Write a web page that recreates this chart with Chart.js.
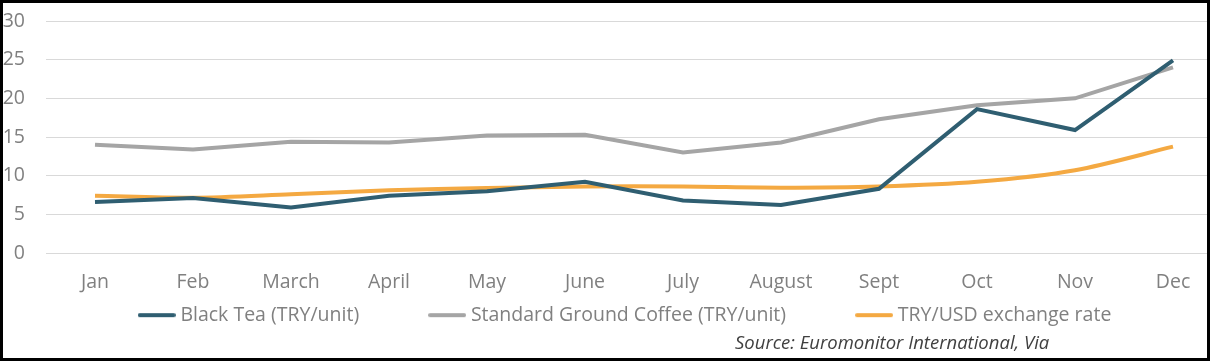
<!DOCTYPE html>
<html>
<head>
<meta charset="utf-8">
<script src="https://cdn.jsdelivr.net/npm/chart.js@4.4.1/dist/chart.umd.min.js"></script>
<style>
  html, body { margin: 0; padding: 0; background: #fff; overflow: hidden; }
  body { width: 1210px; height: 361px; position: relative; }
  #wrap { position: absolute; left: 0; top: 0; width: 1222px; height: 361px; }
  #frame { position: absolute; left: 0; top: 0; width: 1210px; height: 361px;
    box-sizing: border-box; border: 3px solid #000; pointer-events: none; }
  #source { position: absolute; left: 735px; top: 332px; font-family: "Open Sans", sans-serif;
    font-style: italic; font-size: 18.5px; line-height: 20px; color: #404040; white-space: nowrap; }
</style>
</head>
<body>
<div id="wrap"><canvas id="chart"></canvas></div>
<div id="source">Source: Euromonitor International, Via</div>
<div id="frame"></div>
<script>
const months = ["Jan", "Feb", "March", "April", "May", "June", "July", "August", "Sept", "Oct", "Nov", "Dec"];
const blackTea = [6.6, 7.1, 5.9, 7.4, 8.0, 9.2, 6.8, 6.2, 8.3, 18.6, 15.9, 24.9];
const groundCoffee = [14.0, 13.4, 14.4, 14.3, 15.2, 15.3, 13.0, 14.3, 17.3, 19.1, 20.0, 24.0];
const tryUsd = [7.4, 7.15, 7.6, 8.1, 8.4, 8.6, 8.6, 8.45, 8.6, 9.2, 10.7, 13.75];
const yTicks = [0, 5, 10, 15, 20, 25, 30];

const LEGEND_GAP = 74;   // horizontal gap between legend items
const LEGEND_H = 66.6;   // height kept for the legend row

// small line swatch for the legend, drawn close to the text like Excel does
function lineSwatch(color) {
  const c = document.createElement("canvas");
  c.width = 38;
  c.height = 6;
  const g = c.getContext("2d");
  g.strokeStyle = color;
  g.lineWidth = 4;
  g.lineCap = "round";
  g.beginPath();
  g.moveTo(2, 3);
  g.lineTo(36, 3);
  g.stroke();
  return c;
}

// legend padding is used both between items and above the row, so pull the row back up
const legendGap = {
  id: "legendGap",
  beforeLayout(chart) {
    const lg = chart.legend;
    if (!lg || lg._gapPatched) return;
    lg._gapPatched = true;
    const fit = lg.fit;
    const draw = lg._draw;
    lg.fit = function () { fit.call(this); this.height = LEGEND_H; };
    lg._draw = function () {
      const c = this.ctx;
      c.save();
      c.translate(16, -(LEGEND_GAP - 11));
      draw.call(this);
      c.restore();
    };
  }
};

const ctx = document.getElementById("chart").getContext("2d");
Chart.defaults.font.family = "'Open Sans', sans-serif";
Chart.defaults.color = "#808080";

new Chart(ctx, {
  type: "line",
  data: {
    labels: months,
    datasets: [
      { label: "Black Tea (TRY/unit)", data: blackTea, borderColor: "#2F5E71", backgroundColor: "#2F5E71",
        borderWidth: 4, pointRadius: 0, tension: 0 },
      { label: "Standard Ground Coffee (TRY/unit)", data: groundCoffee, borderColor: "#A5A5A5", backgroundColor: "#A5A5A5",
        borderWidth: 4, pointRadius: 0, tension: 0 },
      { label: "TRY/USD exchange rate", data: tryUsd, borderColor: "#F4A942", backgroundColor: "#F4A942",
        borderWidth: 4, pointRadius: 0, tension: 0.3 }
    ]
  },
  options: {
    responsive: true,
    maintainAspectRatio: false,
    animation: false,
    layout: { padding: { left: 0, right: 0, top: 21, bottom: 0 } },
    plugins: {
      tooltip: { enabled: false },
      legend: {
        position: "bottom",
        labels: {
          usePointStyle: true,
          pointStyleWidth: 28,
          font: { size: 19.5 },
          color: "#808080",
          padding: LEGEND_GAP,
          generateLabels: (chart) => {
            const items = Chart.defaults.plugins.legend.labels.generateLabels(chart);
            items.forEach(it => { it.pointStyle = lineSwatch(it.strokeStyle); });
            return items;
          }
        }
      }
    },
    scales: {
      x: {
        offset: true,
        afterFit: (axis) => { axis.height = 41.4; axis.paddingLeft = 0; axis.paddingRight = 0; },
        grid: { display: false, drawTicks: false },
        border: { display: false },
        ticks: { font: { size: 19.5 }, padding: 18, maxRotation: 0, autoSkip: false }
      },
      y: {
        min: 0,
        max: 30,
        afterBuildTicks: (axis) => { axis.ticks = yTicks.map(v => ({ value: v })); },
        afterFit: (axis) => { axis.width = 46; axis.paddingTop = 0; axis.paddingBottom = 0; },
        grid: { color: "#D9D9D9", lineWidth: 1, drawTicks: false },
        border: { display: false },
        ticks: { font: { size: 19.5 }, padding: 21 }
      }
    }
  },
  plugins: [legendGap]
});
</script>
</body>
</html>
